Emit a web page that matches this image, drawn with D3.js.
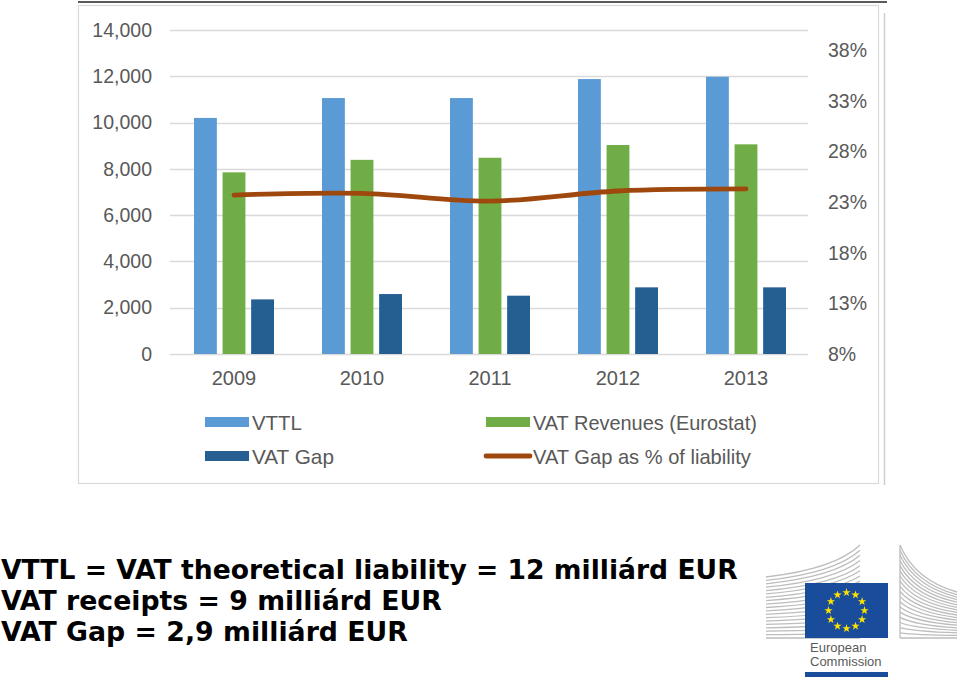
<!DOCTYPE html>
<html>
<head>
<meta charset="utf-8">
<script src="https://cdn.jsdelivr.net/npm/d3@7"></script>
<style>
  html, body { margin: 0; padding: 0; background: #ffffff; }
  svg { display: block; }
</style>
</head>
<body>
<svg id="chart" width="960" height="682"></svg>
<script>
// ---------------- DATA ----------------
const years = ["2009", "2010", "2011", "2012", "2013"];
const vttl = [10200, 11060, 11060, 11880, 11980];
const vatRevenues = [7850, 8390, 8480, 9030, 9060];
const vatGap = [2360, 2590, 2520, 2880, 2880];
const gapPct = [0.237, 0.2387, 0.231, 0.241, 0.243];
const leftTicks = [0, 2000, 4000, 6000, 8000, 10000, 12000, 14000];
const rightTicks = [0.08, 0.13, 0.18, 0.23, 0.28, 0.33, 0.38];
const seriesNames = ["VTTL", "VAT Revenues (Eurostat)", "VAT Gap", "VAT Gap as % of liability"];
const noteLines = [
  "VTTL = VAT theoretical liability = 12 milliárd EUR",
  "VAT receipts = 9 milliárd EUR",
  "VAT Gap = 2,9 milliárd EUR"
];
const logoLines = ["European", "Commission"];

// ---------------- STYLE ----------------
const colors = { vttl: "#5b9bd5", rev: "#70ad47", gap: "#255e91", line: "#9e480e" };
const axisColor = "#595959";
const gridColor = "#d9d9d9";
const chartFont = "'Liberation Sans', Arial, sans-serif";

const svg = d3.select("#chart");

// Frame
svg.append("rect").attr("x", 78.5).attr("y", 5.5).attr("width", 800).attr("height", 478)
  .attr("fill", "none").attr("stroke", "#d9d9d9").attr("stroke-width", 1.2);
svg.append("line").attr("x1", 78).attr("x2", 887).attr("y1", 2).attr("y2", 2)
  .attr("stroke", "#5a5a5a").attr("stroke-width", 2.2);
svg.append("line").attr("x1", 884.5).attr("x2", 884.5).attr("y1", 13).attr("y2", 485)
  .attr("stroke", "#cfcfcf").attr("stroke-width", 1.5);

// Scales
const plot = { left: 170, right: 810, top: 30, bottom: 354 };
const x0 = d3.scaleBand().domain(years).range([plot.left, plot.right]).paddingInner(0).paddingOuter(0);
const keys = ["vttl", "rev", "gap"];
const x1 = d3.scaleBand().domain(keys).range([24, 104]).paddingInner(0.2);
const yL = d3.scaleLinear().domain([0, 14000]).range([plot.bottom, plot.top]);
const yR = d3.scaleLinear().domain([0.08, 0.40]).range([plot.bottom, plot.top]);

// Gridlines
svg.append("g").selectAll("line").data(leftTicks).join("line")
  .attr("x1", plot.left).attr("x2", 808)
  .attr("y1", d => Math.round(yL(d)) + 0.5).attr("y2", d => Math.round(yL(d)) + 0.5)
  .attr("stroke", gridColor).attr("stroke-width", 1.3);

// Left axis
const leftAxis = d3.axisLeft(yL).tickValues(leftTicks).tickFormat(d3.format(",")).tickSize(0).tickPadding(0);
const gL = svg.append("g").attr("transform", `translate(152,0)`).call(leftAxis);
gL.select(".domain").remove();
gL.selectAll("text").attr("fill", axisColor).attr("font-family", chartFont).attr("font-size", 19.5);

// Right axis
const rightAxis = d3.axisRight(yR).tickValues(rightTicks).tickFormat(d3.format(".0%")).tickSize(0).tickPadding(0);
const gR = svg.append("g").attr("transform", `translate(828,0)`).call(rightAxis);
gR.select(".domain").remove();
gR.selectAll("text").attr("fill", axisColor).attr("font-family", chartFont).attr("font-size", 19.5);

// Bottom axis
const bottomAxis = d3.axisBottom(x0).tickSize(0).tickPadding(0);
const gB = svg.append("g").attr("transform", `translate(0,371)`).call(bottomAxis);
gB.select(".domain").remove();
gB.selectAll("text").attr("fill", axisColor).attr("font-family", chartFont).attr("font-size", 20);

// Bars
const rows = years.map((y, i) => ({ year: y, vttl: vttl[i], rev: vatRevenues[i], gap: vatGap[i], pct: gapPct[i] }));
const groups = svg.append("g").selectAll("g").data(rows).join("g")
  .attr("transform", d => `translate(${x0(d.year)},0)`);
groups.selectAll("rect").data(d => keys.map(k => ({ key: k, value: d[k] }))).join("rect")
  .attr("x", d => x1(d.key))
  .attr("width", x1.bandwidth())
  .attr("y", d => yL(d.value))
  .attr("height", d => yL(0) - yL(d.value))
  .attr("fill", d => colors[d.key]);

// Line
const line = d3.line()
  .x(d => x0(d.year) + x0.bandwidth() / 2)
  .y(d => yR(d.pct))
  .curve(d3.curveCatmullRom.alpha(0.5));
svg.append("path").datum(rows).attr("d", line)
  .attr("fill", "none").attr("stroke", colors.line).attr("stroke-width", 4.8)
  .attr("stroke-linecap", "round").attr("stroke-linejoin", "round");

// Legend
const legendItems = [
  { name: seriesNames[0], type: "rect", color: colors.vttl, x: 205, y: 422 },
  { name: seriesNames[1], type: "rect", color: colors.rev, x: 486, y: 422 },
  { name: seriesNames[2], type: "rect", color: colors.gap, x: 205, y: 456 },
  { name: seriesNames[3], type: "line", color: colors.line, x: 486, y: 456 }
];
const legendTargets = [50, 224, 82, 218];
const lg = svg.append("g").selectAll("g").data(legendItems).join("g")
  .attr("transform", d => `translate(${d.x},${d.y})`);
lg.filter(d => d.type === "rect").append("rect")
  .attr("x", 0).attr("y", -5).attr("width", 44).attr("height", 10).attr("fill", d => d.color);
lg.filter(d => d.type === "line").append("line")
  .attr("x1", 0).attr("x2", 44).attr("y1", 0).attr("y2", 0)
  .attr("stroke", d => d.color).attr("stroke-width", 4.8).attr("stroke-linecap", "round");
lg.append("text").attr("x", 47).attr("y", 0).attr("dy", "0.36em")
  .attr("fill", axisColor).attr("font-family", chartFont).attr("font-size", 21)
  .text(d => d.name)
  .each(function(d, i) {
    const w = this.getComputedTextLength();
    const s = Math.min(1, legendTargets[i] / w);
    d3.select(this).attr("transform", `translate(47,0) scale(${s},1) translate(-47,0)`);
  });

// Notes
const noteTargets = [737, 441, 407];
const notes = svg.append("g").selectAll("text").data(noteLines).join("text")
  .attr("x", 1).attr("y", (d, i) => 579 + i * 31)
  .attr("font-family", "'DejaVu Sans', Verdana, sans-serif")
  .attr("font-weight", "bold").attr("font-size", 26.5).attr("fill", "#000")
  .text(d => d);
notes.each(function(d, i) {
  const w = this.getComputedTextLength();
  const s = noteTargets[i] / w;
  d3.select(this).attr("transform", `translate(1,0) scale(${s},1) translate(-1,0)`);
});

// Logo
const logo = svg.append("g");
const nL = 19;
const leftB = d3.range(nL).map(i => i);
logo.selectAll("path.lb").data(leftB).join("path")
  .attr("d", i => {
    const yl = 577 + i * (638 - 577) / (nL - 1);
    const yr = 545 + i * (638 - 545) / (nL - 1);
    return `M766,${yl} Q835,${yl - (yl - yr) * 0.25} 860,${yr}`;
  })
  .attr("fill", "none").attr("stroke", "#bdbdbd").attr("stroke-width", 1.3);
logo.selectAll("path.rb").data(leftB).join("path")
  .attr("d", i => {
    const yl = 545 + i * (638 - 545) / (nL - 1);
    const yr = 592 + i * (638 - 592) / (nL - 1);
    return `M900,${yl} Q915,${yl + (yr - yl) * 0.75} 957,${yr}`;
  })
  .attr("fill", "none").attr("stroke", "#bdbdbd").attr("stroke-width", 1.3);
logo.append("line").attr("x1", 900).attr("x2", 900).attr("y1", 545).attr("y2", 638)
  .attr("stroke", "#bdbdbd").attr("stroke-width", 1.3);
logo.append("rect").attr("x", 805).attr("y", 583).attr("width", 83).attr("height", 55).attr("fill", "#1a4c9c");
const star = d3.symbol().type(d3.symbolStar).size(22);
logo.selectAll("path.star").data(d3.range(12)).join("path")
  .attr("d", star)
  .attr("transform", k => {
    const a = k * Math.PI / 6;
    return `translate(${846.5 + 18 * Math.sin(a)},${610.5 - 18 * Math.cos(a)})`;
  })
  .attr("fill", "#ffe200");
logo.selectAll("text").data(logoLines).join("text")
  .attr("x", 810).attr("y", (d, i) => 652 + i * 14)
  .attr("font-family", chartFont).attr("font-size", 13).attr("fill", "#5a5a5a")
  .text(d => d);
logo.append("rect").attr("x", 805).attr("y", 672).attr("width", 83).attr("height", 5).attr("fill", "#1a4c9c");
</script>
</body>
</html>
